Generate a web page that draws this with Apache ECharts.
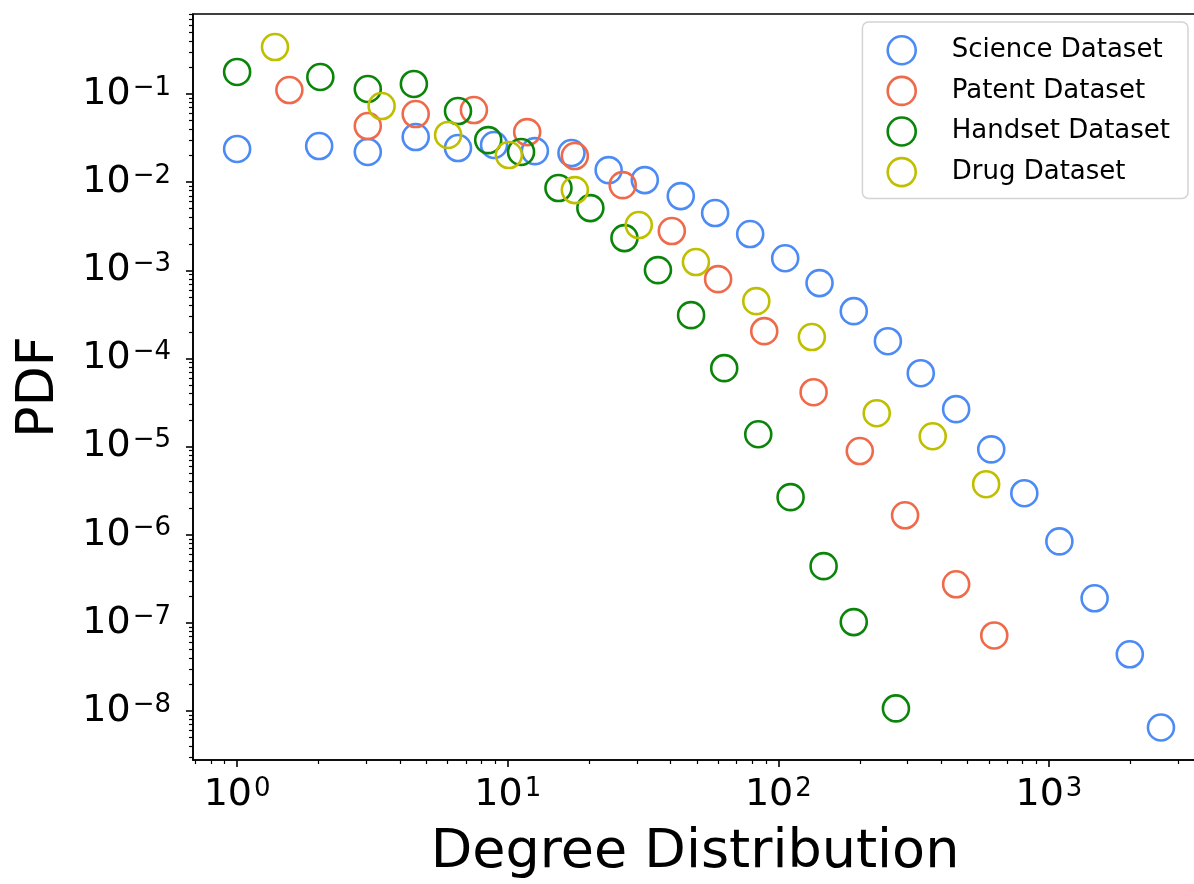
<!DOCTYPE html>
<html>
<head>
<meta charset="utf-8">
<script src="https://cdn.jsdelivr.net/npm/echarts@6/dist/echarts.min.js"></script>
<style>html,body{margin:0;padding:0;background:#fff}#c{width:1194px;height:884px}</style>
</head>
<body>
<div id="c"></div>
<script>
// Data (raw values)
const scienceX = [1, 2.01, 3.04, 4.57, 6.55, 8.9, 12.6, 17.2, 23.6, 32.1, 43.6, 58.4, 78.7, 106, 142, 190, 254, 336, 454, 612, 811, 1093, 1475, 1990, 2594];
const scienceY = [0.0238, 0.0257, 0.022, 0.0325, 0.0244, 0.0264, 0.0225, 0.0214, 0.0137, 0.01056, 0.00695, 0.00446, 0.00258, 0.00137, 0.000716, 0.000344, 0.000157, 6.8e-5, 2.66e-5, 9.3e-6, 2.96e-6, 8.4e-7, 1.9e-7, 4.4e-8, 6.5e-9];
const patentX = [1.56, 3.04, 4.57, 7.5, 11.8, 17.7, 26.6, 40.4, 59.9, 88.7, 135, 200, 294, 454, 628];
const patentY = [0.111, 0.0433, 0.0593, 0.0658, 0.037, 0.0198, 0.00926, 0.00279, 0.000794, 0.000204, 4.14e-5, 8.9e-6, 1.66e-6, 2.74e-7, 7.2e-8];
const handsetX = [1, 2.03, 3.04, 4.5, 6.55, 8.47, 11.2, 15.4, 20.2, 27.0, 35.9, 47.6, 63.1, 84.3, 111, 147, 190, 272];
const handsetY = [0.178, 0.156, 0.114, 0.130, 0.0641, 0.030, 0.022, 0.00857, 0.00508, 0.00232, 0.001005, 0.00031, 7.76e-5, 1.38e-5, 2.67e-6, 4.4e-7, 1.02e-7, 1.07e-8];
const drugX = [1.38, 3.42, 6.02, 10.1, 17.7, 30.5, 49.6, 82.9, 133, 231, 372, 586];
const drugY = [0.341, 0.073, 0.0343, 0.0203, 0.00813, 0.00326, 0.00124, 0.000447, 0.000175, 2.39e-5, 1.31e-5, 3.74e-6];

const seriesNames = ['Science Dataset', 'Patent Dataset', 'Handset Dataset', 'Drug Dataset'];
const seriesColors = ['#4C8BF5', '#EE6A4A', '#0A850A', '#BFBF00'];

const xMajorExp = [0, 1, 2, 3];
const yMajorExp = [-1, -2, -3, -4, -5, -6, -7, -8];
const xRange = [0.687, 3525];
const yRange = [2.78e-9, 0.809];

// ---- build ----
const L = Math.log10;
const xMin = L(xRange[0]), xMax = L(xRange[1]);
const yMin = L(yRange[0]), yMax = L(yRange[1]);

function minorTicks(lo, hi) {
  const out = [];
  for (let e = Math.floor(lo) - 1; e <= Math.ceil(hi); e++) {
    for (let k = 2; k <= 9; k++) {
      const v = e + L(k);
      if (v > lo && v < hi) out.push(v);
    }
  }
  return out;
}
const xMinor = minorTicks(xMin, xMax);
const yMinor = minorTicks(yMin, yMax);

const FONT = 'DejaVu Sans';
function supLabel(v) {
  const e = Math.round(v);
  const s = e < 0 ? '\u2212' + Math.abs(e) : String(e);
  return '{b|10}{s|' + s + '}';
}
const richSup = {
  b: { fontSize: 38, lineHeight: 38, fontFamily: FONT, color: '#000' },
  s: { fontSize: 26, lineHeight: 17, fontFamily: FONT, color: '#000', verticalAlign: 'top', padding: [0, 0, 0, 2] }
};

const pairs = [[scienceX, scienceY], [patentX, patentY], [handsetX, handsetY], [drugX, drugY]];
const series = pairs.map((p, i) => ({
  name: seriesNames[i],
  type: 'scatter',
  xAxisIndex: 0,
  yAxisIndex: 0,
  symbol: 'circle',
  symbolSize: 26,
  itemStyle: { color: 'rgba(0,0,0,0)', borderColor: seriesColors[i], borderWidth: 2.6, opacity: 1 },
  emphasis: { disabled: true },
  data: p[0].map((x, j) => [L(x), L(p[1][j])])
}));

const grid = { left: 193, right: -3, top: 14, bottom: 124, outerBoundsMode: 'none', containLabel: false, show: true, borderColor: '#000', borderWidth: 1.6, backgroundColor: 'transparent' };

const option = {
  animation: false,
  backgroundColor: '#fff',
  grid: grid,
  legend: {
    orient: 'vertical',
    right: 6,
    top: 22,
    data: seriesNames,
    icon: 'circle',
    itemWidth: 28,
    itemHeight: 28,
    itemGap: 10,
    padding: [13, 18, 11, 24],
    backgroundColor: '#fff',
    borderColor: '#d4d4d4',
    borderWidth: 1.5,
    borderRadius: 6,
    itemStyle: { borderWidth: 2.6, opacity: 1 },
    textStyle: { fontFamily: FONT, fontSize: 26, color: '#000', padding: [0, 0, 0, 31] },
    selectedMode: false
  },
  xAxis: [
    {
      type: 'value', min: xMin, max: xMax, position: 'bottom',
      name: 'Degree Distribution', nameLocation: 'middle', nameGap: 66,
      nameTextStyle: { fontFamily: FONT, fontSize: 54, color: '#000' },
      axisLine: { show: true, onZero: false, lineStyle: { color: '#000', width: 1.6 } },
      axisTick: { show: true, customValues: xMajorExp, length: 7, lineStyle: { color: '#000', width: 1.6 } },
      axisLabel: { customValues: xMajorExp, formatter: supLabel, rich: richSup, margin: 16 },
      splitLine: { show: false }
    },
    {
      type: 'value', min: xMin, max: xMax, position: 'bottom',
      axisLine: { show: false, onZero: false },
      axisTick: { show: true, customValues: xMinor, length: 4, lineStyle: { color: '#000', width: 1.2 } },
      axisLabel: { show: false },
      splitLine: { show: false }
    }
  ],
  yAxis: [
    {
      type: 'value', min: yMin, max: yMax, position: 'left',
      name: 'PDF', nameLocation: 'middle', nameGap: 128, nameRotate: 90,
      nameTextStyle: { fontFamily: FONT, fontSize: 52, color: '#000' },
      axisLine: { show: true, onZero: false, lineStyle: { color: '#000', width: 1.6 } },
      axisTick: { show: true, customValues: yMajorExp, length: 7, lineStyle: { color: '#000', width: 1.6 } },
      axisLabel: { customValues: yMajorExp, formatter: supLabel, rich: richSup, margin: 22 },
      splitLine: { show: false }
    },
    {
      type: 'value', min: yMin, max: yMax, position: 'left',
      axisLine: { show: false, onZero: false },
      axisTick: { show: true, customValues: yMinor, length: 4, lineStyle: { color: '#000', width: 1.2 } },
      axisLabel: { show: false },
      splitLine: { show: false }
    }
  ],
  series: series
};

const chart = echarts.init(document.getElementById('c'), null, { renderer: 'canvas' });
chart.setOption(option);
</script>
</body>
</html>
